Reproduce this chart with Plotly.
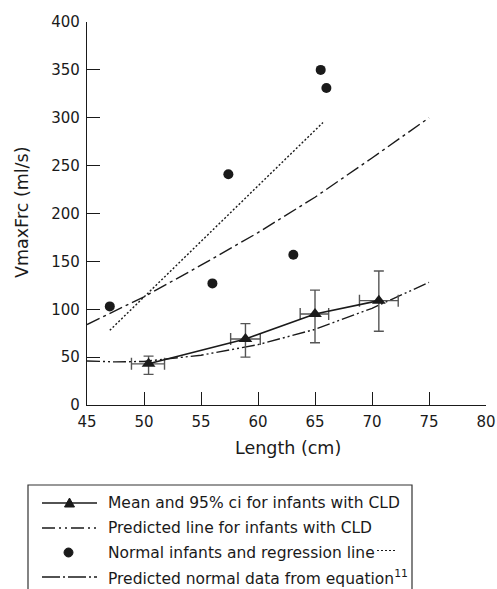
import plotly.graph_objects as go

# mean and 95% ci for infants with CLD
cld_length = [50.4, 58.9, 65.0, 70.6]
cld_mean = [43, 69, 95, 109]
cld_ci_low = [32, 50, 65, 77]
cld_ci_high = [51, 85, 120, 140]
cld_len_low = [48.9, 57.6, 63.7, 68.9]
cld_len_high = [51.8, 60.2, 66.2, 72.3]

# predicted line for infants with CLD
pred_cld_length = [45, 47.5, 50, 55, 60, 65, 70, 75]
pred_cld_value = [46, 45, 45.5, 52, 63, 79, 101, 128]

# normal infants and their regression line
normal_length = [47.0, 56.0, 57.4, 63.1, 65.5, 66.0]
normal_value = [103, 127, 241, 157, 350, 331]
reg_length = [47.0, 65.7]
reg_value = [78, 295]

# predicted normal data from equation 11
eq_length = [45, 50, 55, 60, 65, 70, 75]
eq_value = [84, 113, 146, 180, 217, 258, 300]

x_ticks = [45, 50, 55, 60, 65, 70, 75, 80]
y_ticks = [0, 50, 100, 150, 200, 250, 300, 350, 400]

legend_labels = [
    "Mean and 95% ci for infants with CLD",
    "Predicted line for infants with CLD",
    "Normal infants and regression line",
    "Predicted normal data from equation<sup>11</sup>",
]

W, H = 497, 589
ML, MR, MT, MB = 87, 11, 22, 184
PW, PH = W - ML - MR, H - MT - MB
FONT = "DejaVu Sans"
INK = "#1a1a1a"


def px(x):
    # page pixel -> paper fraction
    return (x - ML) / PW


def py(y):
    return (H - MB - y) / PH


fig = go.Figure()

fig.add_trace(go.Scatter(
    x=eq_length, y=eq_value, mode="lines",
    line=dict(color=INK, width=1.4, dash="14px,4px,3px,4px"),
))
fig.add_trace(go.Scatter(
    x=pred_cld_length, y=pred_cld_value, mode="lines",
    line=dict(color=INK, width=1.4, dash="13px,3px,2px,3px,2px,3px"),
))
fig.add_trace(go.Scatter(
    x=reg_length, y=reg_value, mode="lines",
    line=dict(color=INK, width=1.4, dash="2px,2px"),
))
fig.add_trace(go.Scatter(
    x=normal_length, y=normal_value, mode="markers",
    marker=dict(color=INK, size=10, symbol="circle"),
))
fig.add_trace(go.Scatter(
    x=cld_length, y=cld_mean, mode="lines+markers",
    line=dict(color=INK, width=1.6),
    marker=dict(color=INK, size=12, symbol="triangle-up"),
    error_y=dict(type="data", symmetric=False,
                 array=[h - m for h, m in zip(cld_ci_high, cld_mean)],
                 arrayminus=[m - l for m, l in zip(cld_mean, cld_ci_low)],
                 color="#555555", thickness=1.4, width=5),
    error_x=dict(type="data", symmetric=False,
                 array=[h - m for h, m in zip(cld_len_high, cld_length)],
                 arrayminus=[m - l for m, l in zip(cld_length, cld_len_low)],
                 color="#555555", thickness=1.4, width=6),
))

# hand drawn legend box, cut by the bottom edge like the original
shapes = [dict(type="rect", xref="paper", yref="paper",
               x0=px(28), x1=px(412), y0=py(485), y1=py(620),
               line=dict(color="#333333", width=1.2))]
rows = [503, 528, 552.5, 577]
shapes.append(dict(type="line", xref="paper", yref="paper",
                   x0=px(42), x1=px(97), y0=py(rows[0]), y1=py(rows[0]),
                   line=dict(color=INK, width=1.4)))
shapes.append(dict(type="path", xref="paper", yref="paper",
                   path="M {},{} L {},{} L {},{} Z".format(
                       px(64.5), py(rows[0] + 4), px(74.5), py(rows[0] + 4),
                       px(69.5), py(rows[0] - 5)),
                   fillcolor=INK, line=dict(color=INK, width=1)))
shapes.append(dict(type="line", xref="paper", yref="paper",
                   x0=px(42), x1=px(97), y0=py(rows[1]), y1=py(rows[1]),
                   line=dict(color=INK, width=1.4, dash="13px,4px,2px,4px,2px,4px")))
shapes.append(dict(type="circle", xref="paper", yref="paper",
                   x0=px(64), x1=px(73), y0=py(rows[2] - 4.5), y1=py(rows[2] + 4.5),
                   fillcolor=INK, line=dict(color=INK, width=1)))
shapes.append(dict(type="line", xref="paper", yref="paper",
                   x0=px(377), x1=px(395), y0=py(rows[2] - 2), y1=py(rows[2] - 2),
                   line=dict(color=INK, width=1.2, dash="2px,2px")))
shapes.append(dict(type="line", xref="paper", yref="paper",
                   x0=px(42), x1=px(97), y0=py(rows[3]), y1=py(rows[3]),
                   line=dict(color=INK, width=1.4, dash="18px,3px,2px,3px")))

annotations = [dict(text=t, xref="paper", yref="paper", x=px(106), y=py(r),
                    xanchor="left", yanchor="middle", showarrow=False,
                    font=dict(family=FONT, size=15.5, color=INK))
               for t, r in zip(legend_labels, rows)]

# axis titles placed by hand
annotations.append(dict(text="Length (cm)", xref="paper", yref="paper",
                        x=px(288), y=py(448), xanchor="center", yanchor="middle",
                        showarrow=False, font=dict(family=FONT, size=17.5, color=INK)))
annotations.append(dict(text="VmaxFrc (ml/s)", xref="paper", yref="paper",
                        x=px(22), y=py(213), xanchor="center", yanchor="middle",
                        textangle=-90, showarrow=False,
                        font=dict(family=FONT, size=17.5, color=INK)))

fig.update_layout(
    width=W, height=H,
    margin=dict(l=ML, r=MR, t=MT, b=MB, autoexpand=False),
    plot_bgcolor="white", paper_bgcolor="white",
    showlegend=False,
    font=dict(family=FONT, size=15, color=INK),
    shapes=shapes,
    annotations=annotations,
)
fig.update_xaxes(
    range=[45, 80], tickvals=x_ticks, automargin=False,
    showgrid=False, zeroline=False, showline=True, linecolor=INK, linewidth=1.3,
    ticks="inside", ticklen=13, tickcolor=INK, tickwidth=1.3,
    ticklabelstandoff=3,
)
fig.update_yaxes(
    range=[0, 400], tickvals=y_ticks, automargin=False,
    showgrid=False, zeroline=False, showline=True, linecolor=INK, linewidth=1.3,
    ticks="inside", ticklen=13, tickcolor=INK, tickwidth=1.3,
    ticklabelstandoff=3,
)

# drop the browser's default body margin so the figure fills the window
fig.write_html("out.html",
               config={"displayModeBar": False},
               post_script="document.body.style.margin='0';"
                           "document.body.style.overflow='hidden';")
